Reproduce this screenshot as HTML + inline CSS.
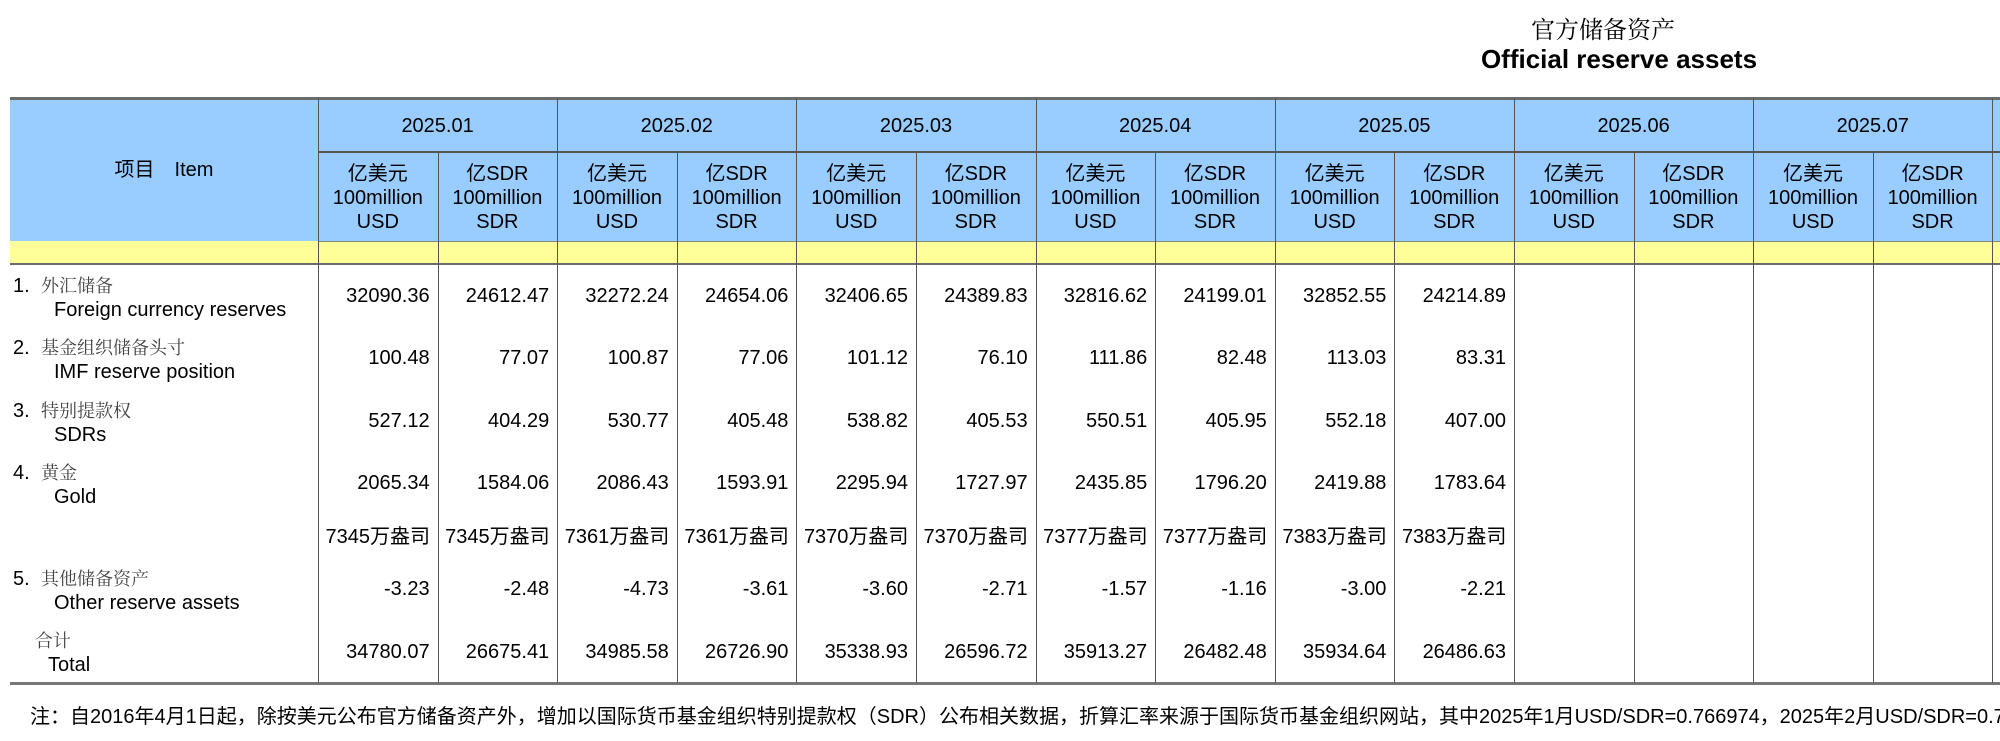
<!DOCTYPE html>
<html><head><meta charset="utf-8">
<style>
html,body{margin:0;padding:0;background:#fff;}
#root{position:relative;width:2000px;height:741px;overflow:hidden;font-family:"Liberation Sans","Noto Sans CJK SC",sans-serif;color:#000;}
.a{position:absolute;white-space:nowrap;}
.t{font-size:20px;line-height:24px;}
.lab{font-family:"Liberation Serif","Noto Serif CJK SC",serif;color:#444;font-size:18px;}
</style></head>
<body>
<div id="root">
  <div class="a" style="left:1503px;top:10px;width:200px;text-align:center;font-family:'Liberation Serif','Noto Serif CJK SC',serif;font-size:24px;">官方储备资产</div>
  <div class="a" style="left:1419px;top:44px;width:400px;text-align:center;font-weight:bold;font-size:26px;">Official reserve assets</div>
</div>
<script>
const months = ["2025.01","2025.02","2025.03","2025.04","2025.05","2025.06","2025.07"];
const usdForeign = ["32090.36","32272.24","32406.65","32816.62","32852.55"];
const sdrForeign = ["24612.47","24654.06","24389.83","24199.01","24214.89"];
const usdImf = ["100.48","100.87","101.12","111.86","113.03"];
const sdrImf = ["77.07","77.06","76.10","82.48","83.31"];
const usdSdrs = ["527.12","530.77","538.82","550.51","552.18"];
const sdrSdrs = ["404.29","405.48","405.53","405.95","407.00"];
const usdGold = ["2065.34","2086.43","2295.94","2435.85","2419.88"];
const sdrGold = ["1584.06","1593.91","1727.97","1796.20","1783.64"];
const goldOz = ["7345万盎司","7361万盎司","7370万盎司","7377万盎司","7383万盎司"];
const usdOther = ["-3.23","-4.73","-3.60","-1.57","-3.00"];
const sdrOther = ["-2.48","-3.61","-2.71","-1.16","-2.21"];
const usdTotal = ["34780.07","34985.58","35338.93","35913.27","35934.64"];
const sdrTotal = ["26675.41","26726.90","26596.72","26482.48","26486.63"];

const root = document.getElementById('root');
const L = 10, X0 = 318, CW = 119.6, TOP = 98, H1 = 152, H2 = 241, H3 = 264, BOT = 683;
function box(name, x, y, w, h, css) {
  const d = document.createElement('div');
  d.className = 'a';
  
  
  d.style.cssText = `left:${x}px;top:${y}px;width:${w}px;height:${h}px;` + (css || '');
  root.appendChild(d);
  return d;
}
function text(name, s, x, cy, w, align, cls) {
  const d = document.createElement('div');
  d.className = 'a t ' + (cls || '');
  
  
  d.style.cssText = `left:${x}px;top:${cy - 12}px;width:${w}px;text-align:${align};`;
  d.textContent = s;
  root.appendChild(d);
  return d;
}
// backgrounds
box('header-background', L, TOP, 2000 - L, H2 - TOP, 'background:#99ccff;');
box('spacer-row-yellow', L, H2, 2000 - L, H3 - H2, 'background:#ffff99;');
// lines
box('table-top-border', L, TOP - 1, 2000 - L, 3, 'background:#6b6b6b;');
box('header-bottom-border', L, H3 - 1, 2000 - L, 2, 'background:#6b6b6b;');
box('table-bottom-border', L, BOT - 1, 2000 - L, 3, 'background:#777;');
box('month-header-divider', X0, H1 - 1, 2000 - X0, 2, 'background:#555;');
box('yellow-top-line', X0, H2, 2000 - X0, 1, 'background:#888;');
for (let i = 0; i <= 14; i++) {
  const x = Math.round(X0 + i * CW);
  const top = (i % 2 === 0) ? TOP : H1;
  const d = box('column-divider', x, top, 1, BOT - top, 'background:#555;');
}
// headers
text('item-header', '项目　Item', L, 170, X0 - L, 'center');
months.forEach((m, i) => {
  const x = X0 + i * 2 * CW;
  text('month-header', m, x, 126, 2 * CW, 'center');
  text('unit-usd-cn', '亿美元', x, 174, CW, 'center');
  text('unit-usd-en1', '100million', x, 198, CW, 'center');
  text('unit-usd-en2', 'USD', x, 222, CW, 'center');
  text('unit-sdr-cn', '亿SDR', x + CW, 174, CW, 'center');
  text('unit-sdr-en1', '100million', x + CW, 198, CW, 'center');
  text('unit-sdr-en2', 'SDR', x + CW, 222, CW, 'center');
});
// row labels
const rows = [
  ["1.", "外汇储备", "Foreign currency reserves", 296, usdForeign, sdrForeign],
  ["2.", "基金组织储备头寸", "IMF reserve position", 358, usdImf, sdrImf],
  ["3.", "特别提款权", "SDRs", 421, usdSdrs, sdrSdrs],
  ["4.", "黄金", "Gold", 483, usdGold, sdrGold],
  ["5.", "其他储备资产", "Other reserve assets", 589, usdOther, sdrOther]
];
rows.forEach(r => {
  const cy = r[3];
  text('row-number', r[0], 13, cy - 10, 30, 'left');
  text('row-label-cn', r[1], 41, cy - 10, 260, 'left', 'lab');
  text('row-label-en', r[2], 54, cy + 14, 260, 'left');
  r[4].forEach((v, i) => text('value-usd', v, X0 + i * 2 * CW, cy, CW - 8, 'right'));
  r[5].forEach((v, i) => text('value-sdr', v, X0 + (i * 2 + 1) * CW, cy, CW - 8, 'right'));
});
goldOz.forEach((v, i) => {
  text('gold-ounces-usd', v, X0 + i * 2 * CW, 537, CW, 'center');
  text('gold-ounces-sdr', v, X0 + (i * 2 + 1) * CW, 537, CW, 'center');
});
text('total-label-cn', '合计', 35, 641, 200, 'left', 'lab');
text('total-label-en', 'Total', 48, 665, 200, 'left');
usdTotal.forEach((v, i) => text('total-usd', v, X0 + i * 2 * CW, 652, CW - 8, 'right'));
sdrTotal.forEach((v, i) => text('total-sdr', v, X0 + (i * 2 + 1) * CW, 652, CW - 8, 'right'));
// footnote
text('footnote', '注：自2016年4月1日起，除按美元公布官方储备资产外，增加以国际货币基金组织特别提款权（SDR）公布相关数据，折算汇率来源于国际货币基金组织网站，其中2025年1月USD/SDR=0.766974，2025年2月USD/SDR=0.763936，2025年3月USD/SDR=0.752611', 30, 717, 2600, 'left');
</script>
</body></html>
